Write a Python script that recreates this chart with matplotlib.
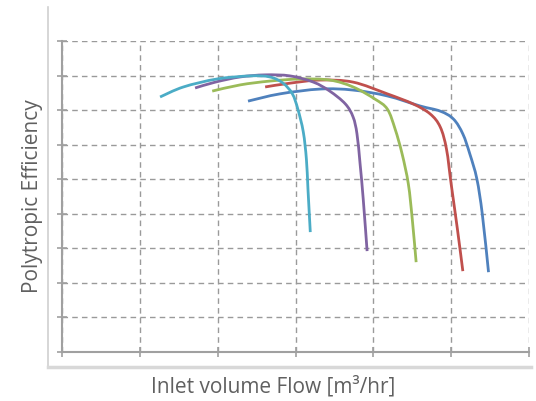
import numpy as np
import matplotlib
matplotlib.use("Agg")
import matplotlib.pyplot as plt
from matplotlib.lines import Line2D
from matplotlib.path import Path
from matplotlib.patches import PathPatch

# curves (x in grid units, y in grid units)
blue_x = [2.39, 2.80, 3.32, 3.74, 4.18, 4.60, 4.86, 5.03, 5.15, 5.24, 5.33, 5.40, 5.48]
blue_y = [7.26, 7.47, 7.61, 7.58, 7.41, 7.12, 6.97, 6.74, 6.31, 5.73, 5.01, 3.99, 2.31]

red_x = [2.61, 2.93, 3.32, 3.74, 4.18, 4.51, 4.73, 4.86, 4.94, 5.00, 5.08, 5.15]
red_y = [7.67, 7.78, 7.87, 7.81, 7.47, 7.18, 6.89, 6.51, 5.87, 4.86, 3.56, 2.34]

green_x = [1.93, 2.29, 2.67, 3.06, 3.44, 3.74, 4.02, 4.18, 4.28, 4.37, 4.45, 4.50, 4.55]
green_y = [7.55, 7.73, 7.84, 7.90, 7.87, 7.67, 7.32, 7.03, 6.45, 5.73, 4.86, 3.85, 2.60]

purple_x = [1.71, 1.97, 2.29, 2.61, 2.93, 3.23, 3.44, 3.64, 3.74, 3.79, 3.83, 3.87, 3.92]
purple_y = [7.64, 7.81, 7.96, 8.02, 7.99, 7.81, 7.55, 7.18, 6.80, 6.31, 5.44, 4.43, 2.92]

cyan_x = [1.26, 1.56, 1.99, 2.42, 2.67, 2.84, 2.96, 3.03, 3.10, 3.14, 3.16, 3.19]
cyan_y = [7.38, 7.67, 7.90, 7.99, 7.96, 7.78, 7.47, 7.03, 6.37, 5.58, 4.72, 3.47]

series = [
    (blue_x, blue_y, "#4F81BD"),
    (red_x, red_y, "#C0504D"),
    (green_x, green_y, "#9BBB59"),
    (purple_x, purple_y, "#8064A2"),
    (cyan_x, cyan_y, "#4BACC6"),
]


def smooth_path(xs, ys):
    # bezier through the points, like a "smoothed line" in a spreadsheet
    p = np.column_stack([xs, ys])
    verts = [p[0]]
    codes = [Path.MOVETO]
    for i in range(len(p) - 1):
        p0 = p[i - 1] if i > 0 else p[i]
        p3 = p[i + 2] if i + 2 < len(p) else p[i + 1]
        c1 = p[i] + (p[i + 1] - p0) / 6
        c2 = p[i + 1] - (p3 - p[i]) / 6
        verts += [c1, c2, p[i + 1]]
        codes += [Path.CURVE4] * 3
    return Path(verts, codes)


plt.rcParams['font.family'] = ['Open Sans', 'DejaVu Sans']

fig = plt.figure(figsize=(5.36, 4.02), dpi=100)
ax = fig.add_axes([62 / 536, 49 / 402, 467 / 536, 311 / 402])

for xs, ys, c in series:
    ax.add_patch(PathPatch(smooth_path(xs, ys), fill=False, edgecolor=c, lw=2.0,
                           capstyle='butt', joinstyle='round'))

ax.set_xlim(0, 6)
ax.set_ylim(0, 9)
ax.set_xticks(np.arange(0, 7))
ax.set_yticks(np.arange(0, 10))
ax.set_xticklabels([])
ax.set_yticklabels([])
ax.tick_params(direction='inout', length=7, width=1.2, color='#a0a0a0')
ax.grid(True, ls=(0, (4, 3)), color='#9a9a9a', lw=1.0)
ax.set_axisbelow(True)
for s in ['top', 'right']:
    ax.spines[s].set_visible(False)
for s in ['left', 'bottom']:
    ax.spines[s].set_color('#a0a0a0')
    ax.spines[s].set_linewidth(1.5)
ax.patch.set_alpha(0)

# light chart-area border
fig.add_artist(Line2D([48 / 536, 48 / 536], [1 - 368 / 402, 1 - 8 / 402],
                      transform=fig.transFigure, color='#d0d0d0', lw=1.2))
fig.add_artist(Line2D([48 / 536, 531 / 536], [1 - 368 / 402, 1 - 368 / 402],
                      transform=fig.transFigure, color='#d8d8d8', lw=2.5))

fig.text(273 / 536, 1 - 387 / 402, "Inlet volume Flow [m³/hr]", ha='center', va='center',
         fontsize=15, color='#606060')
fig.text(33 / 536, 1 - 196 / 402, "Polytropic Efficiency", ha='center', va='center',
         rotation=90, fontsize=15, color='#606060')

fig.savefig("out.png", dpi=100)
